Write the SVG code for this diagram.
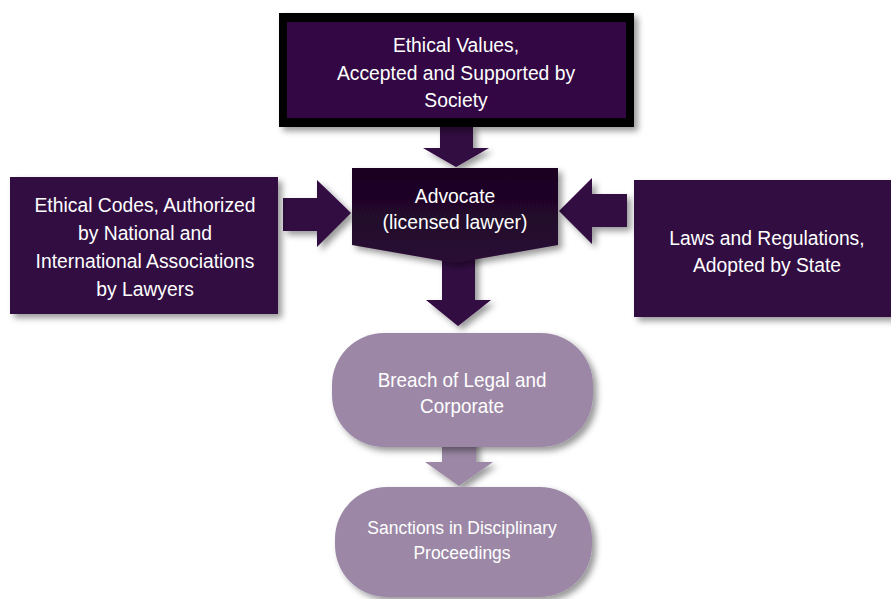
<svg xmlns="http://www.w3.org/2000/svg" width="891" height="599" viewBox="0 0 891 599">
<defs>
<filter id="sh" x="-20%" y="-20%" width="140%" height="150%">
<feDropShadow dx="4" dy="4" stdDeviation="3" flood-color="#000" flood-opacity="0.4"/>
</filter>
<linearGradient id="adv" x1="0" y1="0" x2="0" y2="1">
<stop offset="0" stop-color="#1a0422"/>
<stop offset="1" stop-color="#2a0a34"/>
</linearGradient>
</defs>
<style>
.dark{fill:#320743}
.light{fill:#9c88a6}
.t{font-family:"Liberation Sans",Arial,sans-serif;fill:#ffffff;text-anchor:middle}
.t21{font-size:21px}
.t20{font-size:20.5px}
.t19{font-size:19px}
</style>
<rect width="891" height="599" fill="#ffffff"/>
<g id="connectors">
<polygon class="dark" filter="url(#sh)" points="440,125 473,125 473,148 489,148 456,167 423,148 440,148"/>
<polygon class="dark" filter="url(#sh)" points="283,198 317,198 317,180 351,213 317,247 317,231 283,231"/>
<polygon class="dark" filter="url(#sh)" points="627,194 592,194 592,178 559,211 592,244 592,227 627,227"/>
<polygon class="dark" filter="url(#sh)" points="442,250 475,250 475,300 491,300 458,326 426,300 442,300"/>
<polygon class="light" filter="url(#sh)" points="442,440 476,440 476,462 493,462 459,486 425,462 442,462"/>
</g>
<g id="ethical-values">
<rect x="279" y="13" width="355" height="114" fill="#000" filter="url(#sh)"/>
<rect x="287" y="22" width="339" height="96" class="dark"/>
<g transform="translate(456,0) scale(0.92,1)">
<text class="t t21" x="0" y="52">Ethical Values,</text>
<text class="t t21" x="0" y="80">Accepted and Supported by</text>
<text class="t t21" x="0" y="107">Society</text>
</g>
</g>
<g id="advocate">
<polygon points="352,168 558,168 558,245 455,263 352,245" fill="url(#adv)" filter="url(#sh)"/>
<g transform="translate(455,0) scale(0.92,1)">
<text class="t t21" x="0" y="203">Advocate</text>
<text class="t t21" x="0" y="229">(licensed lawyer)</text>
</g>
</g>
<g id="ethical-codes">
<rect x="10" y="177" width="268" height="137" class="dark" filter="url(#sh)"/>
<g transform="translate(145,0) scale(0.92,1)">
<text class="t t21" x="0" y="212">Ethical Codes, Authorized</text>
<text class="t t21" x="0" y="240">by National and</text>
<text class="t t21" x="0" y="268">International Associations</text>
<text class="t t21" x="0" y="296">by Lawyers</text>
</g>
</g>
<g id="laws">
<rect x="634" y="180" width="262" height="137" class="dark" filter="url(#sh)"/>
<g transform="translate(767,0) scale(0.92,1)">
<text class="t t21" x="0" y="245">Laws and Regulations,</text>
<text class="t t21" x="0" y="272">Adopted by State</text>
</g>
</g>
<g id="breach">
<rect x="332" y="333" width="261" height="114" rx="52" ry="52" class="light" filter="url(#sh)"/>
<g transform="translate(462,0) scale(0.92,1)">
<text class="t t20" x="0" y="387">Breach of Legal and</text>
<text class="t t20" x="0" y="413">Corporate</text>
</g>
</g>
<g id="sanctions">
<rect x="335" y="487" width="257" height="110" rx="52" ry="52" class="light" filter="url(#sh)"/>
<g transform="translate(462,0) scale(0.92,1)">
<text class="t t19" x="0" y="534">Sanctions in Disciplinary</text>
<text class="t t19" x="0" y="559">Proceedings</text>
</g>
</g>
</svg>
